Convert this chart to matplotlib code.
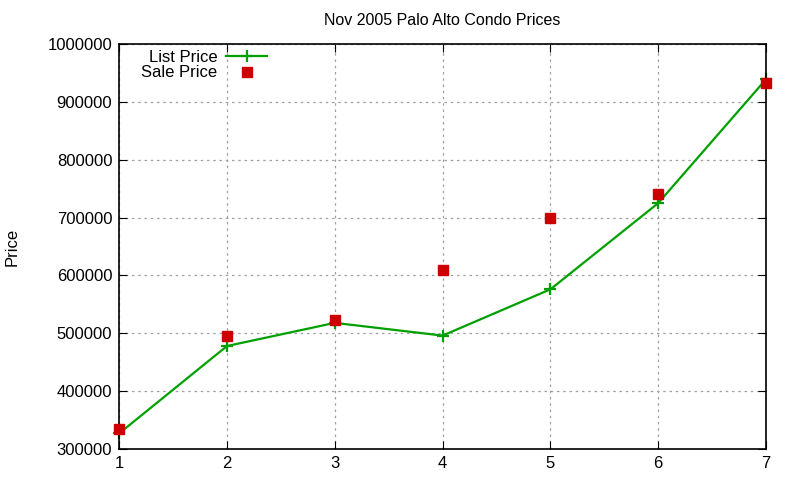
import matplotlib
matplotlib.use('Agg')
import matplotlib.pyplot as plt

plt.rcParams['font.family'] = ['Liberation Sans', 'DejaVu Sans']

# values
listings = [1, 2, 3, 4, 5, 6, 7]
list_price = [327000, 478000, 518000, 496000, 576000, 725000, 939000]
sale_price = [335000, 496000, 523000, 610000, 700000, 741000, 933000]
y_ticks = [300000, 400000, 500000, 600000, 700000, 800000, 900000, 1000000]

fig = plt.figure(figsize=(8, 4.8), dpi=100)
ax = fig.add_axes([0.149, 0.0646, 0.8085, 0.8437])

ax.plot(listings, list_price, '-', color='#00a000', lw=1.6, marker='+', ms=8, mew=1.6,
        label='List Price', clip_on=False)
ax.plot(listings, sale_price, 's', color='#cc0000', ms=6.5, ls='none', label='Sale Price',
        clip_on=False, zorder=3)

ax.set_xlim(1, 7)
ax.set_ylim(300000, 1000000)
ax.set_xticks(listings)
ax.set_yticks(y_ticks)
ax.set_yticklabels([str(v) for v in y_ticks])
ax.tick_params(direction='in', top=True, right=True, labelsize=12, length=6, pad=5)
ax.grid(True, color='#a0a0a0', ls=(0, (2, 3)), lw=0.9)
for s in ax.spines.values():
    s.set_linewidth(1.2)

ax.set_title('Nov 2005 Palo Alto Condo Prices', fontsize=11.5, pad=14)
ax.set_ylabel('Price', fontsize=12, labelpad=20)

leg = ax.legend(loc='upper left', markerfirst=False, frameon=False, fontsize=12,
                bbox_to_anchor=(0.016, 1.015), handlelength=2.5, labelspacing=0.05,
                borderaxespad=0.3, handletextpad=0.5)

fig.savefig('out.png', dpi=100)
